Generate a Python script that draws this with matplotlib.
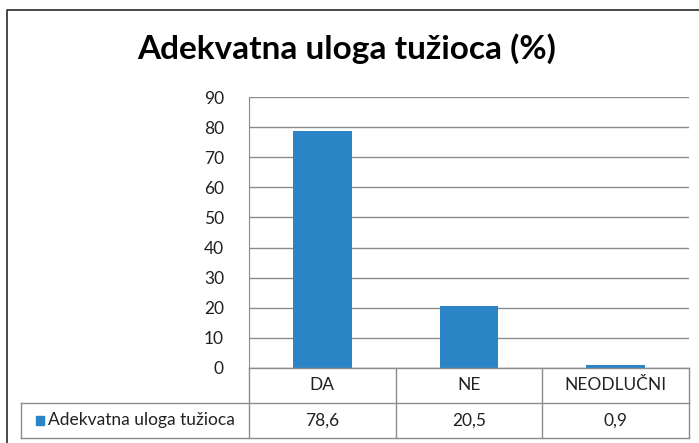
import matplotlib.pyplot as plt
from matplotlib.patches import Rectangle

categories = ['DA', 'NE', 'NEODLUČNI']
values = [78.6, 20.5, 0.9]
value_labels = ['78,6', '20,5', '0,9']
series_name = 'Adekvatna uloga tužioca'
title = 'Adekvatna uloga tužioca (%)'
yticks = list(range(0, 91, 10))

W, H = 699, 443
blue = '#2a84c6'
grid = '#8c8c8c'
plt.rcParams['font.family'] = ['Lato', 'DejaVu Sans']

fig = plt.figure(figsize=(W / 100, H / 100), dpi=100)

def px_axes(x0, y0, x1, y1):
    # pixel box (top-left origin) -> figure axes
    return fig.add_axes([x0 / W, 1 - y1 / H, (x1 - x0) / W, (y1 - y0) / H])

# outer chart frame (cropped at right and bottom)
frame = px_axes(0, 0, W, H)
frame.set_xlim(0, W)
frame.set_ylim(H, 0)
frame.axis('off')
frame.plot([7, 7, W], [H, 10, 10], color='#3a3a3a', lw=1.3)

fig.text(347 / W, 1 - 49 / H, title, ha='center', va='center',
         fontsize=24, fontweight='bold', color='black')

# plot area
x_left, x_right, y_top, y_bot = 249, 689, 97, 368
ax = px_axes(x_left, y_top, x_right, y_bot)
ax.bar(range(len(values)), values, width=0.4, color=blue, zorder=3)
ax.set_xlim(-0.5, len(values) - 0.5)
ax.set_ylim(0, 90)
ax.set_yticks(yticks)
ax.set_yticklabels([str(t) for t in yticks], fontsize=12.5, color='#222222')
ax.tick_params(axis='y', length=0, pad=18)
ax.set_xticks([])
ax.yaxis.grid(True, color=grid, lw=1)
for s in ['top', 'right', 'bottom']:
    ax.spines[s].set_visible(False)
ax.spines['left'].set_color(grid)

# data table under the plot, sharing category positions
t_left, t_bot = 21, 438
unit = (len(values)) / (x_right - x_left)
tab = px_axes(t_left, y_bot, x_right, t_bot)
x0 = -0.5 - (x_left - t_left) * unit
tab.set_xlim(x0, len(values) - 0.5)
tab.set_ylim(0, 2)
tab.axis('off')
edges = [i - 0.5 for i in range(len(values) + 1)]
lk = dict(color=grid, lw=1, clip_on=False)
tab.plot([edges[0], edges[-1]], [2, 2], **lk)
tab.plot([x0, edges[-1]], [1, 1], **lk)
tab.plot([x0, edges[-1]], [0, 0], **lk)
tab.plot([x0, x0], [0, 1], **lk)
for e in edges:
    tab.plot([e, e], [0, 2], **lk)
for i, (c, v) in enumerate(zip(categories, value_labels)):
    tab.text(i, 1.5, c, ha='center', va='center', fontsize=12.5, color='#222222')
    tab.text(i, 0.5, v, ha='center', va='center', fontsize=12.5, color='#222222')

kx = x0 + 15 * unit
tab.add_patch(Rectangle((kx, 0.37), 8 * unit, 0.26, color=blue, clip_on=False))
tab.text(kx + 12 * unit, 0.5, series_name, ha='left', va='center',
         fontsize=12.5, color='#222222')

fig.savefig('out.png', dpi=100)
